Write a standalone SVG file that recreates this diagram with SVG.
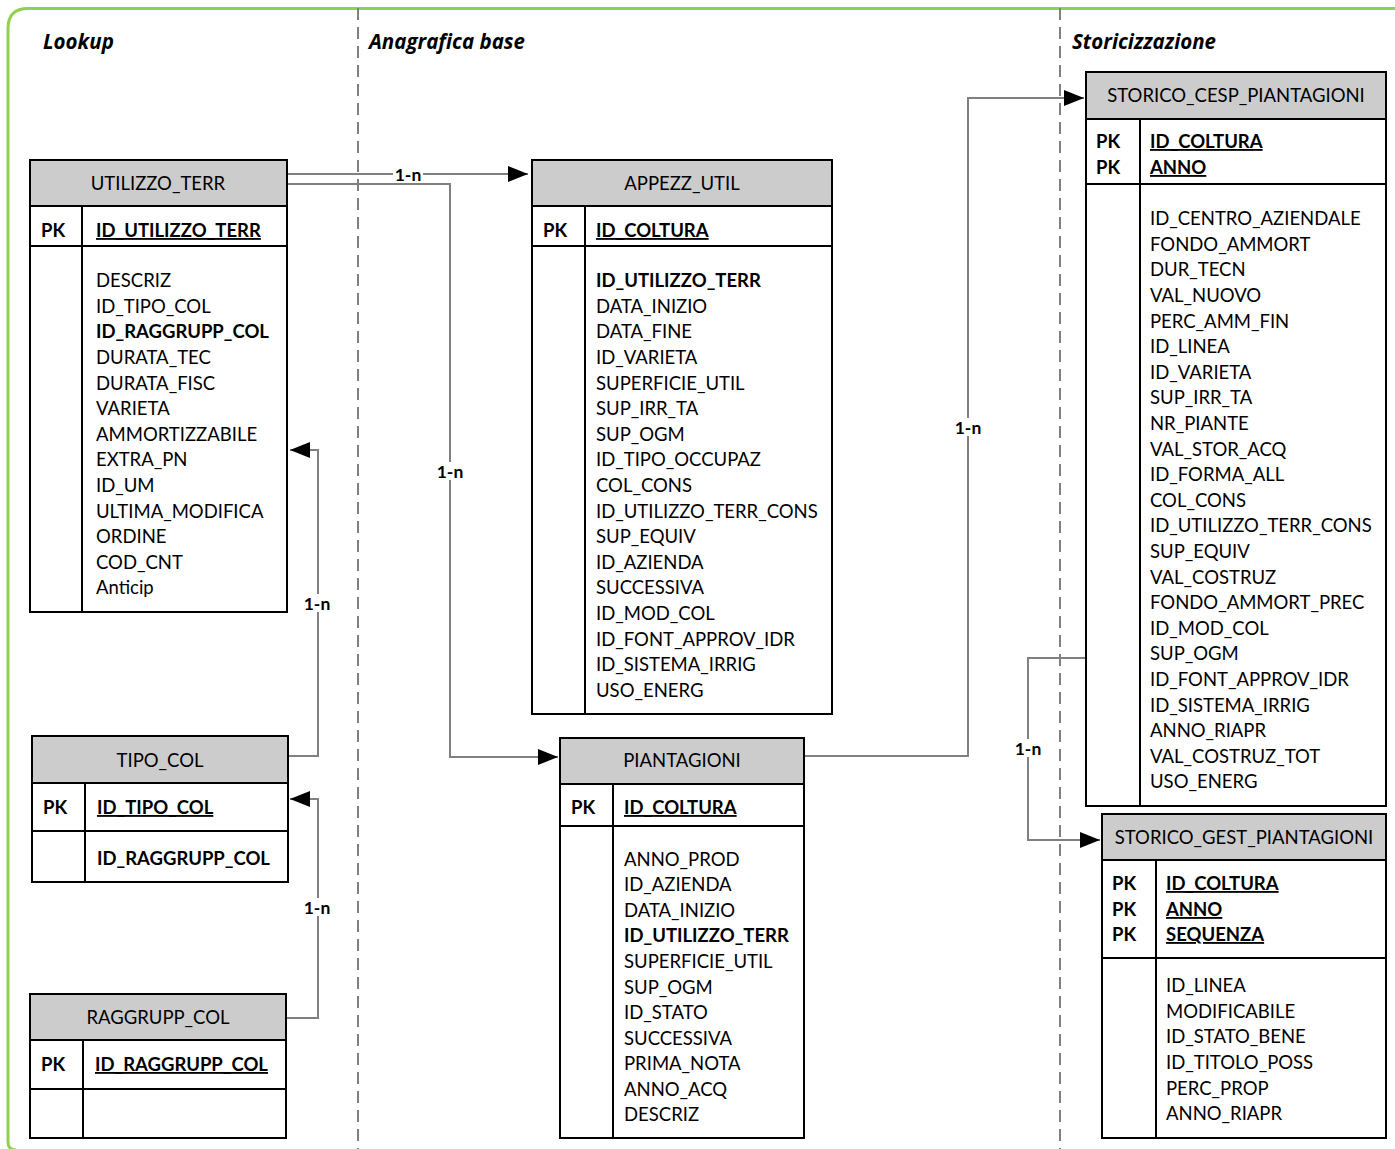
<svg xmlns="http://www.w3.org/2000/svg" width="1395" height="1149" viewBox="0 0 1395 1149">
<style>
text{font-family:Lato,"Open Sans","Liberation Sans",sans-serif;font-size:18.5px;fill:#000}
.b{font-weight:bold}
.u{font-weight:bold;text-decoration:underline}
.sec{font-family:"Open Sans",Lato,sans-serif;font-weight:bold;font-style:italic;font-size:20.5px}
.hd{fill:#cccccc;stroke:#000;stroke-width:2}
.bx{fill:#fff;stroke:#000;stroke-width:2}
.ln{stroke:#000;stroke-width:2;fill:none}
.hc{text-anchor:middle}
.con{stroke:#808080;stroke-width:2;fill:none}
.lbl{font-weight:bold;font-size:17.5px;text-anchor:middle}
.dash{stroke:#808080;stroke-width:2;stroke-dasharray:12 7}
</style>
<defs>
<marker id="arr" markerWidth="20" markerHeight="16" refX="20" refY="8" orient="auto" markerUnits="userSpaceOnUse">
<path d="M0,0 L20,8 L0,16 Z" fill="#000"/>
</marker>
</defs>
<rect width="1395" height="1149" fill="#fff"/>
<path d="M1400,8.5 L28,8.5 Q8,8.5 8,28.5 L8,1142 Q8,1150 16,1150" fill="none" stroke="#92d050" stroke-width="3"/>
<line class="dash" x1="358" y1="8" x2="358" y2="1149"/>
<line class="dash" x1="1060" y1="8" x2="1060" y2="1149"/>
<text class="sec" x="43" y="49">Lookup</text>
<text class="sec" x="369" y="49">Anagrafica base</text>
<text class="sec" x="1072" y="49">Storicizzazione</text>

<g id="connectors">
<line class="con" x1="288" y1="174" x2="528" y2="174" marker-end="url(#arr)"/>
<polyline class="con" points="288,184 450,184 450,757 558,757" marker-end="url(#arr)"/>
<polyline class="con" points="288,756 318,756 318,450 290,450" marker-end="url(#arr)"/>
<polyline class="con" points="286,1018 318,1018 318,799 290,799" marker-end="url(#arr)"/>
<polyline class="con" points="804,756 968,756 968,98 1084,98" marker-end="url(#arr)"/>
<polyline class="con" points="1086,658 1028,658 1028,840 1100,840" marker-end="url(#arr)"/>
<rect x="393" y="165" width="30" height="18" fill="#fff"/>
<text class="lbl" x="408" y="181">1-n</text>
<rect x="435" y="462" width="30" height="18" fill="#fff"/>
<text class="lbl" x="450" y="478">1-n</text>
<rect x="302" y="594" width="30" height="18" fill="#fff"/>
<text class="lbl" x="317" y="610">1-n</text>
<rect x="302" y="898" width="30" height="18" fill="#fff"/>
<text class="lbl" x="317" y="914">1-n</text>
<rect x="953" y="418" width="30" height="18" fill="#fff"/>
<text class="lbl" x="968" y="434">1-n</text>
<rect x="1013" y="739" width="30" height="18" fill="#fff"/>
<text class="lbl" x="1028" y="755">1-n</text>
</g>

<g id="UTILIZZO_TERR">
<rect class="hd" x="30" y="160" width="257" height="46"/>
<rect class="bx" x="30" y="206" width="257" height="406"/>
<line class="ln" x1="30" y1="246" x2="287" y2="246"/>
<line class="ln" x1="82" y1="206" x2="82" y2="612"/>
<text class="hc" x="158" y="190">UTILIZZO_TERR</text>
<text class="b" x="41" y="237">PK</text>
<text class="u" x="96" y="237">ID_UTILIZZO_TERR</text>
<text x="96" y="287">DESCRIZ</text>
<text x="96" y="313">ID_TIPO_COL</text>
<text class="b" x="96" y="338">ID_RAGGRUPP_COL</text>
<text x="96" y="364">DURATA_TEC</text>
<text x="96" y="390">DURATA_FISC</text>
<text x="96" y="415">VARIETA</text>
<text x="96" y="441">AMMORTIZZABILE</text>
<text x="96" y="466">EXTRA_PN</text>
<text x="96" y="492">ID_UM</text>
<text x="96" y="518">ULTIMA_MODIFICA</text>
<text x="96" y="543">ORDINE</text>
<text x="96" y="569">COD_CNT</text>
<text x="96" y="594">Anticip</text>
</g>

<g id="APPEZZ_UTIL">
<rect class="hd" x="532" y="160" width="300" height="46"/>
<rect class="bx" x="532" y="206" width="300" height="508"/>
<line class="ln" x1="532" y1="246" x2="832" y2="246"/>
<line class="ln" x1="585" y1="206" x2="585" y2="714"/>
<text class="hc" x="682" y="190">APPEZZ_UTIL</text>
<text class="b" x="543" y="237">PK</text>
<text class="u" x="596" y="237">ID_COLTURA</text>
<text class="b" x="596" y="287">ID_UTILIZZO_TERR</text>
<text x="596" y="313">DATA_INIZIO</text>
<text x="596" y="338">DATA_FINE</text>
<text x="596" y="364">ID_VARIETA</text>
<text x="596" y="390">SUPERFICIE_UTIL</text>
<text x="596" y="415">SUP_IRR_TA</text>
<text x="596" y="441">SUP_OGM</text>
<text x="596" y="466">ID_TIPO_OCCUPAZ</text>
<text x="596" y="492">COL_CONS</text>
<text x="596" y="518">ID_UTILIZZO_TERR_CONS</text>
<text x="596" y="543">SUP_EQUIV</text>
<text x="596" y="569">ID_AZIENDA</text>
<text x="596" y="594">SUCCESSIVA</text>
<text x="596" y="620">ID_MOD_COL</text>
<text x="596" y="646">ID_FONT_APPROV_IDR</text>
<text x="596" y="671">ID_SISTEMA_IRRIG</text>
<text x="596" y="697">USO_ENERG</text>
</g>

<g id="TIPO_COL">
<rect class="hd" x="32" y="736" width="256" height="47"/>
<rect class="bx" x="32" y="783" width="256" height="99"/>
<line class="ln" x1="32" y1="831" x2="288" y2="831"/>
<line class="ln" x1="85" y1="783" x2="85" y2="882"/>
<text class="hc" x="160" y="767">TIPO_COL</text>
<text class="b" x="43" y="814">PK</text>
<text class="u" x="97" y="814">ID_TIPO_COL</text>
<text class="b" x="97" y="865">ID_RAGGRUPP_COL</text>
</g>

<g id="RAGGRUPP_COL">
<rect class="hd" x="30" y="994" width="256" height="46"/>
<rect class="bx" x="30" y="1040" width="256" height="98"/>
<line class="ln" x1="30" y1="1089" x2="286" y2="1089"/>
<line class="ln" x1="83" y1="1040" x2="83" y2="1138"/>
<text class="hc" x="158" y="1024">RAGGRUPP_COL</text>
<text class="b" x="41" y="1071">PK</text>
<text class="u" x="95" y="1071">ID_RAGGRUPP_COL</text>
</g>

<g id="PIANTAGIONI">
<rect class="hd" x="560" y="738" width="244" height="46"/>
<rect class="bx" x="560" y="784" width="244" height="354"/>
<line class="ln" x1="560" y1="826" x2="804" y2="826"/>
<line class="ln" x1="613" y1="784" x2="613" y2="1138"/>
<text class="hc" x="682" y="767">PIANTAGIONI</text>
<text class="b" x="571" y="814">PK</text>
<text class="u" x="624" y="814">ID_COLTURA</text>
<text x="624" y="866">ANNO_PROD</text>
<text x="624" y="891">ID_AZIENDA</text>
<text x="624" y="917">DATA_INIZIO</text>
<text class="b" x="624" y="942">ID_UTILIZZO_TERR</text>
<text x="624" y="968">SUPERFICIE_UTIL</text>
<text x="624" y="994">SUP_OGM</text>
<text x="624" y="1019">ID_STATO</text>
<text x="624" y="1045">SUCCESSIVA</text>
<text x="624" y="1070">PRIMA_NOTA</text>
<text x="624" y="1096">ANNO_ACQ</text>
<text x="624" y="1121">DESCRIZ</text>
</g>

<g id="STORICO_CESP_PIANTAGIONI">
<rect class="hd" x="1086" y="72" width="300" height="47"/>
<rect class="bx" x="1086" y="119" width="300" height="687"/>
<line class="ln" x1="1086" y1="184" x2="1386" y2="184"/>
<line class="ln" x1="1140" y1="119" x2="1140" y2="806"/>
<text class="hc" x="1236" y="102">STORICO_CESP_PIANTAGIONI</text>
<text class="b" x="1096" y="148">PK</text>
<text class="b" x="1096" y="174">PK</text>
<text class="u" x="1150" y="148">ID_COLTURA</text>
<text class="u" x="1150" y="174">ANNO</text>
<text x="1150" y="225">ID_CENTRO_AZIENDALE</text>
<text x="1150" y="251">FONDO_AMMORT</text>
<text x="1150" y="276">DUR_TECN</text>
<text x="1150" y="302">VAL_NUOVO</text>
<text x="1150" y="328">PERC_AMM_FIN</text>
<text x="1150" y="353">ID_LINEA</text>
<text x="1150" y="379">ID_VARIETA</text>
<text x="1150" y="404">SUP_IRR_TA</text>
<text x="1150" y="430">NR_PIANTE</text>
<text x="1150" y="456">VAL_STOR_ACQ</text>
<text x="1150" y="481">ID_FORMA_ALL</text>
<text x="1150" y="507">COL_CONS</text>
<text x="1150" y="532">ID_UTILIZZO_TERR_CONS</text>
<text x="1150" y="558">SUP_EQUIV</text>
<text x="1150" y="584">VAL_COSTRUZ</text>
<text x="1150" y="609">FONDO_AMMORT_PREC</text>
<text x="1150" y="635">ID_MOD_COL</text>
<text x="1150" y="660">SUP_OGM</text>
<text x="1150" y="686">ID_FONT_APPROV_IDR</text>
<text x="1150" y="712">ID_SISTEMA_IRRIG</text>
<text x="1150" y="737">ANNO_RIAPR</text>
<text x="1150" y="763">VAL_COSTRUZ_TOT</text>
<text x="1150" y="788">USO_ENERG</text>
</g>

<g id="STORICO_GEST_PIANTAGIONI">
<rect class="hd" x="1102" y="814" width="284" height="46"/>
<rect class="bx" x="1102" y="860" width="284" height="278"/>
<line class="ln" x1="1102" y1="958" x2="1386" y2="958"/>
<line class="ln" x1="1156" y1="860" x2="1156" y2="1138"/>
<text class="hc" x="1244" y="844">STORICO_GEST_PIANTAGIONI</text>
<text class="b" x="1112" y="890">PK</text>
<text class="b" x="1112" y="916">PK</text>
<text class="b" x="1112" y="941">PK</text>
<text class="u" x="1166" y="890">ID_COLTURA</text>
<text class="u" x="1166" y="916">ANNO</text>
<text class="u" x="1166" y="941">SEQUENZA</text>
<text x="1166" y="992">ID_LINEA</text>
<text x="1166" y="1018">MODIFICABILE</text>
<text x="1166" y="1043">ID_STATO_BENE</text>
<text x="1166" y="1069">ID_TITOLO_POSS</text>
<text x="1166" y="1095">PERC_PROP</text>
<text x="1166" y="1120">ANNO_RIAPR</text>
</g>
</svg>
